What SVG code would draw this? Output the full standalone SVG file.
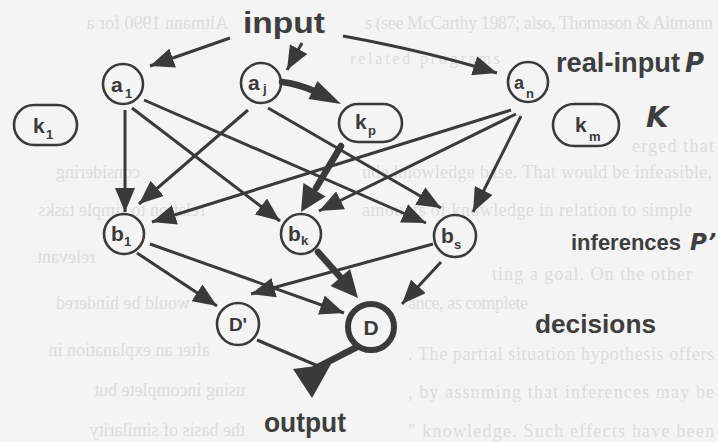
<svg xmlns="http://www.w3.org/2000/svg" width="718" height="442" viewBox="0 0 718 442">
<style>
.bg{font-family:"Liberation Serif","Times New Roman",serif;font-size:18px;fill:#dcdcdc}
.e{fill:none;stroke:#3a3a3a;stroke-width:3;marker-end:url(#ah)}
.tk{fill:none;stroke:#3a3a3a;stroke-width:6.5;stroke-linecap:round}
.hd{fill:#3a3a3a}
.nd{fill:none;stroke:#3a3a3a;stroke-width:2.6}
.lbl{font-family:"Liberation Sans",Arial,sans-serif;font-weight:bold;font-size:21px;fill:#3a3a3a}
.sub{font-size:13px}
.big{font-family:"Liberation Sans",Arial,sans-serif;font-weight:bold;fill:#3e3e3e}
.it{font-family:"DejaVu Sans",sans-serif;font-style:italic;font-weight:bold;fill:#3e3e3e}
</style>
<defs>
<marker id="ah" viewBox="0 0 24 20" refX="24" refY="10" markerWidth="24" markerHeight="20" markerUnits="userSpaceOnUse" orient="auto">
<path d="M0,0 L24,10 L0,20 Z" fill="#3a3a3a"/>
</marker>
</defs>
<rect x="0" y="0" width="718" height="442" fill="#f4f4f4"/>

<g id="background-text">
<text class="bg" x="365" y="29" textLength="348" lengthAdjust="spacing">s (see McCarthy 1987; also, Thomason &amp; Altmann</text>
<text class="bg" x="350" y="64" style="font-size:16px" textLength="150" lengthAdjust="spacing">related programs</text>
<text class="bg" x="632" y="152" textLength="82" lengthAdjust="spacing">erged that</text>
<text class="bg" x="362" y="178" textLength="350" lengthAdjust="spacing">ude knowledge base. That would be infeasible,</text>
<text class="bg" x="362" y="216" textLength="330" lengthAdjust="spacing">amounts of knowledge in relation to simple</text>
<text class="bg" x="492" y="280" textLength="200" lengthAdjust="spacing">ting a goal. On the other</text>
<text class="bg" x="408" y="309" textLength="120" lengthAdjust="spacing">ance, as complete</text>
<text class="bg" x="408" y="360" textLength="306" lengthAdjust="spacing">. The partial situation hypothesis offers</text>
<text class="bg" x="408" y="398" textLength="306" lengthAdjust="spacing">, by assuming that inferences may be</text>
<text class="bg" x="408" y="437" textLength="306" lengthAdjust="spacing">" knowledge. Such effects have been</text>
<text class="bg" transform="translate(228,0) scale(-1,1)" x="0" y="29">Altmann 1990 for a</text>
<text class="bg" transform="translate(140,0) scale(-1,1)" x="0" y="178">considering</text>
<text class="bg" transform="translate(205,0) scale(-1,1)" x="0" y="216">relation to simple tasks</text>
<text class="bg" transform="translate(95,0) scale(-1,1)" x="0" y="263">relevant</text>
<text class="bg" transform="translate(190,0) scale(-1,1)" x="0" y="309">would be hindered</text>
<text class="bg" transform="translate(210,0) scale(-1,1)" x="0" y="356">after an explanation in</text>
<text class="bg" transform="translate(245,0) scale(-1,1)" x="0" y="396">using incomplete but</text>
<text class="bg" transform="translate(245,0) scale(-1,1)" x="0" y="436">the basis of similarity</text>
</g>

<g id="connectors">
<path class="e" d="M230,38 L150,66"/>
<path class="e" d="M302,43 L287,70"/>
<path class="e" d="M343,36 Q430,52 497,73"/>
<path class="e" d="M125,110 L125,212"/>
<path class="e" d="M132,108 L280,221"/>
<path class="e" d="M144,100 L426,223"/>
<path class="e" d="M248,110 L139,204"/>
<path class="e" d="M268,108 L441,208"/>
<path class="e" d="M511,110 L152,222"/>
<path class="e" d="M516,114 L319,211"/>
<path class="e" d="M521,116 L473,212"/>
<path class="e" d="M137,253 L217,306"/>
<path class="e" d="M150,244 L344,313"/>
<path class="e" d="M433,244 L251,294"/>
<path class="e" d="M441,262 L402,304"/>
<path d="M257,340 L318,366" fill="none" stroke="#3a3a3a" stroke-width="3"/>
<path class="tk" d="M282,82 Q298,84 314,91"/>
<polygon class="hd" points="317.5,81 308.5,99 341,104"/>
<path class="tk" d="M341,146 L316,188"/>
<polygon class="hd" points="325.6,196.5 303.4,183.1 301,212"/>
<path class="tk" d="M318,252 L342,279"/>
<polygon class="hd" points="330.5,286.1 350.1,269.1 358,298"/>
<path class="tk" d="M357,347 L316,368"/>
<polygon class="hd" points="293,369 331,364 312,398"/>
</g>

<g id="a1"><circle class="nd" cx="123" cy="84" r="20"/><text class="lbl" x="111" y="92">a<tspan class="sub" x="125" y="98">1</tspan></text></g>
<g id="aj"><circle class="nd" cx="261" cy="83" r="20"/><text class="lbl" x="248" y="90">a<tspan class="sub" x="263" y="93">j</tspan></text></g>
<g id="an"><circle class="nd" cx="528" cy="82" r="20"/><text class="lbl" x="514" y="89" style="font-size:18px">a<tspan class="sub" x="526" y="98">n</tspan></text></g>
<g id="k1"><rect class="nd" x="14" y="105" width="63" height="40" rx="20"/><text class="lbl" x="33" y="133">k<tspan class="sub" x="46" y="139">1</tspan></text></g>
<g id="kp"><rect class="nd" x="339" y="104" width="63" height="38" rx="19"/><text class="lbl" x="355" y="129">k<tspan class="sub" x="368" y="135">p</tspan></text></g>
<g id="km"><rect class="nd" x="553" y="104" width="66" height="42" rx="21"/><text class="lbl" x="575" y="132">k<tspan class="sub" x="589" y="141">m</tspan></text></g>
<g id="b1"><circle class="nd" cx="124" cy="234" r="20"/><text class="lbl" x="111" y="241">b<tspan class="sub" x="124" y="246">1</tspan></text></g>
<g id="bk"><circle class="nd" cx="301" cy="234" r="20"/><text class="lbl" x="288" y="241">b<tspan class="sub" x="301" y="245">k</tspan></text></g>
<g id="bs"><circle class="nd" cx="455" cy="236" r="21"/><text class="lbl" x="441" y="243">b<tspan class="sub" x="454" y="249">s</tspan></text></g>
<g id="Dprime"><circle class="nd" cx="238" cy="324" r="21"/><text class="lbl" x="238" y="331" text-anchor="middle" style="font-size:19px">D'</text></g>
<g id="D"><circle cx="371" cy="327" r="23" fill="none" stroke="#3a3a3a" stroke-width="6"/><text class="lbl" x="371" y="335" text-anchor="middle" style="font-size:21px">D</text></g>

<g id="labels">
<text class="big" x="571" y="250" style="font-size:22px">inferences</text>
<text class="it" x="690" y="250" style="font-size:23px">P’</text>
<text class="big" x="243" y="33" style="font-size:30px" textLength="82" lengthAdjust="spacingAndGlyphs">input</text>
<text class="big" x="556" y="72" style="font-size:27px" textLength="124" lengthAdjust="spacingAndGlyphs">real-input</text>
<text class="it" x="685" y="72" style="font-size:26px">P</text>
<text class="it" x="646" y="127" style="font-size:29px">K</text>
<text class="big" x="535" y="333" style="font-size:26px" textLength="121" lengthAdjust="spacingAndGlyphs">decisions</text>
<text class="big" x="264" y="432" style="font-size:27px" textLength="82" lengthAdjust="spacingAndGlyphs">output</text>
</g>
</svg>
